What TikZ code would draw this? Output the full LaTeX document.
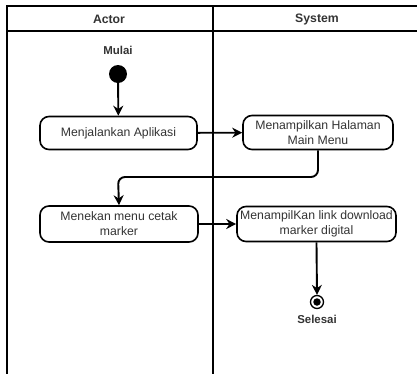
\documentclass[tikz,border=0pt]{standalone}
\usepackage{fontspec}
\setmainfont{Liberation Sans}
\usetikzlibrary{arrows.meta}
\begin{document}
\begin{tikzpicture}[x=1bp,y=-1bp,
  act/.style={draw, line width=1.6bp, rounded corners=9bp, align=center,
    font=\fontsize{12.3}{15}\selectfont, text=black!80, inner sep=1bp},
  flow/.style={line width=1.9bp, -{Stealth[length=10bp,width=10bp]}},
  lane/.style={line width=2.4bp},
  lbl/.style={font=\bfseries\fontsize{11.5}{13}\selectfont, text=black!80},
  head/.style={font=\bfseries\fontsize{12.3}{14}\selectfont, text=black!80}]
\useasboundingbox (0,0) rectangle (417,374);

% swimlanes
\draw[lane] (7,378) -- (7,6) -- (420,6);
\draw[lane] (7,31) -- (420,31);
\draw[lane] (213,6) -- (213,378);
\node[head] (hActor) at (109,19) {Actor};
\node[head] (hSystem) at (317,19) {System};

% start
\node[lbl] (lStart) at (118,50) {Mulai};
\node[circle, fill=black, minimum size=18bp, inner sep=0] (start) at (118,74) {};

% activities
\node[act, minimum width=157bp, minimum height=33bp] (a1) at (118.5,133) {Menjalankan Aplikasi};
\node[act, minimum width=150bp, minimum height=34bp] (a2) at (318,132.5) {Menampilkan Halaman\\Main Menu};
\node[act, minimum width=158bp, minimum height=36bp] (a3) at (119,224) {Menekan menu cetak\\marker};
\node[act, minimum width=159bp, minimum height=35bp] (a4) at (316.5,224) {MenampilKan link download\\marker digital};

% end
\node[circle, draw, line width=1.3bp, minimum size=13bp, inner sep=0] (stop) at (317,302) {};
\node[circle, fill=black, minimum size=7.5bp, inner sep=0] (stopin) at (stop.center) {};
\node[lbl] (lStop) at (317,319) {Selesai};

% flows
\draw[flow] (start) -- (a1);
\draw[flow] (a1) -- (a2);
\draw[flow, rounded corners=7bp] (a2.south) |- (118,177) -- (a3.north);
\draw[flow] (a3) -- (a4);
\draw[flow] (a4.south) -- (stop.north);
\end{tikzpicture}
\end{document}
